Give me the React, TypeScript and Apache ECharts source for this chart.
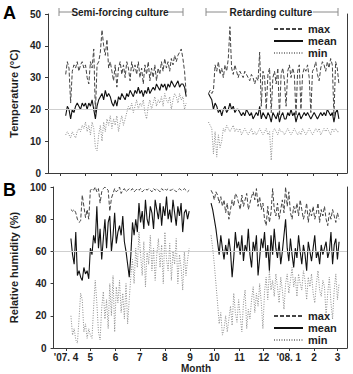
import React, { useEffect, useRef } from "react";
import * as echarts from "echarts";

// Month ticks: days counted from 1 April 2007
const monthTickDays = [0, 30, 61, 91, 122, 153, 183, 214, 244, 275, 306, 335];
const monthLabels = ["'07. 4", "5", "6", "7", "8", "9", "10", "11", "12", "'08. 1", "2", "3"];

const semiStartDay = 6;
const retStartDay = 179;
const stepDays = 2;

// Temperature (°C)
const tMaxSemi = [
  31, 35, 33, 22, 32, 34, 33, 35, 32, 34,
  35, 33, 34, 30, 28, 35, 33, 39, 19, 34,
  35, 38, 45, 40, 37, 42, 33, 35, 32, 29,
  34, 27, 33, 35, 31, 34, 30, 35, 33, 29,
  35, 32, 34, 31, 35, 30, 33, 28, 34, 31,
  35, 29, 33, 30, 34, 29, 33, 31, 35, 32,
  36, 33, 35, 32, 36, 34, 37, 35, 37, 38,
  39, 36, 32, 25,
];
const tMeanSemi = [
  18, 21, 20, 17, 20, 19, 21, 22, 21, 20,
  22, 21, 22, 20, 22, 21, 23, 20, 17, 21,
  23, 24, 25, 23, 26, 24, 25, 24, 22, 21,
  23, 21, 24, 23, 25, 24, 23, 25, 24, 26,
  25, 24, 26, 25, 27, 25, 26, 24, 26, 25,
  27, 25, 26, 27, 26, 28, 27, 26, 28, 27,
  28, 26, 28, 27, 29, 28, 27, 28, 29, 27,
  28, 28, 27, 24,
];
const tMinSemi = [
  12, 13, 12, 11, 13, 12, 11, 13, 14, 13,
  15, 14, 16, 13, 15, 12, 16, 14, 8, 7,
  12, 15, 10, 16, 13, 17, 15, 18, 14, 17,
  15, 18, 13, 16, 18, 15, 17, 19, 21, 20,
  22, 19, 21, 23, 20, 22, 21, 23, 19, 17,
  21, 23, 20, 22, 24, 21, 23, 22, 24, 21,
  25, 23, 22, 24, 20, 23, 25, 24, 22, 25,
  23, 24, 20, 22,
];
const tMaxRet = [
  25, 26, 25, 26, 34, 32, 35, 31, 33, 30,
  34, 32, 36, 46, 33, 31, 34, 32, 30, 32,
  31, 30, 32, 31, 30, 29, 31, 30, 28, 30,
  29, 38, 21, 32, 30, 20, 31, 33, 19, 30,
  32, 28, 33, 18, 31, 33, 29, 21, 32, 34,
  30, 33, 31, 18, 32, 34, 20, 31, 33, 32,
  34, 30, 19, 32, 33, 35, 31, 29, 33, 35,
  34, 32, 35, 33, 36, 34, 18, 35, 33, 28,
];
const tMeanRet = [
  25, 24, 23, 20, 22, 21, 19, 20, 18, 20,
  21, 19, 20, 22, 20, 21, 19, 20, 20, 19,
  18, 19, 18, 20, 19, 18, 19, 17, 18, 19,
  18, 21, 17, 19, 18, 17, 19, 18, 16, 19,
  18, 17, 19, 16, 18, 19, 17, 17, 19, 18,
  20, 18, 19, 16, 18, 19, 17, 18, 19, 18,
  19, 18, 17, 18, 19, 18, 17, 18, 19, 18,
  19, 18, 20, 19, 18, 19, 16, 19, 20, 17,
];
const tMinRet = [
  16, 15, 14, 6, 13, 5, 12, 8, 10, 14,
  13, 15, 14, 13, 14, 15, 13, 14, 13, 14,
  12, 13, 14, 13, 12, 13, 14, 12, 13, 12,
  13, 14, 13, 12, 13, 14, 12, 13, 4, 13,
  14, 13, 12, 14, 13, 13, 12, 13, 14, 13,
  12, 13, 14, 13, 12, 13, 12, 14, 13, 12,
  13, 14, 13, 12, 13, 14, 13, 14, 12, 13,
  14, 13, 14, 13, 12, 14, 13, 14, 13, 13,
];

// Relative humidity (%)
const hMaxSemi = [
  86, 85, 86, 84, 80, 78, 79, 95, 88, 81,
  86, 80, 98, 99, 98, 100, 97, 99, 90, 97,
  99, 100, 99, 98, 85, 93, 96, 99, 97, 98,
  100, 96, 98, 99, 97, 98, 99, 98, 99, 97,
  98, 99, 98, 99, 97, 98, 99, 98, 99, 98,
  97, 99, 98, 99, 98, 97, 99, 98, 99, 98,
  99, 98, 98, 99, 98, 97, 98, 99, 98, 98,
  99, 98, 97, 98,
];
const hMeanSemi = [
  68, 58, 52, 72, 45, 48, 44, 42, 50, 46,
  48, 43, 62, 58, 70, 65, 88, 62, 74, 55,
  68, 80, 62, 78, 82, 60, 70, 84, 65, 72,
  76, 70, 82, 66, 60, 52, 44, 58, 78, 70,
  80, 72, 90, 78, 85, 74, 92, 80, 76, 88,
  84, 74, 92, 86, 80, 90, 76, 88, 82, 94,
  80, 86, 78, 92, 84, 76, 88, 82, 90, 72,
  84, 86, 80, 85,
];
const hMinSemi = [
  20, 8, 12, 5, 3, 18, 34, 30, 10, 15,
  6, 12, 8, 6, 25, 42, 28, 10, 5, 25,
  35, 18, 30, 12, 40, 20, 45, 10, 38, 28,
  42, 22, 34, 18, 40, 15, 30, 45, 55, 40,
  62, 50, 72, 58, 45, 66, 38, 60, 52, 70,
  48, 62, 42, 58, 68, 50, 64, 40, 72, 55,
  48, 65, 42, 60, 52, 68, 40, 58, 50, 36,
  60, 45, 55, 62,
];
const hMaxRet = [
  98, 96, 92, 97, 95, 90, 94, 88, 92, 84,
  90, 80, 86, 92, 88, 96, 94, 90, 86, 95,
  88, 92, 96, 86, 90, 94, 97, 92, 99, 88,
  94, 86, 90, 80, 76, 88, 78, 84, 99, 86,
  82, 90, 80, 86, 92, 84, 100, 88, 97, 84,
  80, 88, 84, 90, 82, 92, 86, 80, 84, 90,
  78, 86, 82, 88, 80, 84, 90, 78, 86, 82,
  88, 80, 76, 84, 80, 86, 82, 78, 84, 80,
];
const hMeanRet = [
  90, 86, 80, 74, 66, 58, 70, 62, 55, 64,
  58, 68, 60, 44, 56, 72, 62, 66, 58, 70,
  54, 64, 60, 74, 58, 50, 66, 60, 70, 45,
  56, 68, 62, 72, 56, 64, 48, 70, 58, 74,
  62, 56, 66, 52, 60, 70, 80, 62, 54, 68,
  58, 50, 62, 56, 70, 60, 52, 64, 58, 48,
  66, 60, 54, 62, 70, 56, 60, 52, 64, 58,
  62, 66, 56, 60, 72, 52, 64, 68, 55, 66,
];
const hMinRet = [
  70, 62, 52, 40, 28, 15, 22, 8, 12, 20,
  10, 18, 26, 14, 34, 22, 16, 30, 20, 10,
  28, 36, 12, 24, 18, 30, 38, 22, 34, 26,
  40, 28, 12, 35, 44, 30, 48, 36, 42, 32,
  46, 38, 28, 44, 36, 24, 40, 46, 34, 42,
  50, 38, 44, 32, 46, 40, 36, 48, 42, 30,
  44, 38, 46, 34, 28, 40, 48, 36, 32, 42,
  38, 20, 34, 44, 28, 18, 36, 46, 30, 40,
];

const FONT = "'Liberation Sans', Arial, sans-serif";
const AXIS_COLOR = "#3a3a3a";
const TEXT_COLOR = "#1e1e1e";

const styles: Record<string, any> = {
  max: { color: "#454545", width: 1, type: [4, 2] },
  mean: { color: "#111111", width: 1.1, type: "solid" },
  min: { color: "#8c8c8c", width: 1, type: [1, 1.5] },
};

function pairs(values: number[], start: number) {
  return values.map((v, i) => [start + stepDays * i, v]);
}

function lineSeries(name: string, data: number[][], xIdx: number, yIdx: number, refY?: number) {
  const s: any = {
    name,
    type: "line",
    xAxisIndex: xIdx,
    yAxisIndex: yIdx,
    data,
    symbol: "none",
    showSymbol: false,
    lineStyle: styles[name],
    itemStyle: { color: styles[name].color },
    silent: true,
  };
  if (refY !== undefined) {
    s.markLine = {
      silent: true,
      symbol: ["none", "none"],
      label: { show: false },
      lineStyle: { color: "#cfcfcf", type: "solid", width: 1 },
      data: [{ yAxis: refY }],
    };
  }
  return s;
}

function xAxis(gridIndex: number, showLabels: boolean) {
  return {
    type: "value",
    gridIndex,
    min: -15.4,
    max: 346.8,
    axisLine: { show: true, onZero: false, lineStyle: { color: AXIS_COLOR, width: 1 } },
    axisTick: { show: true, customValues: monthTickDays, length: 3, lineStyle: { color: AXIS_COLOR } },
    axisLabel: {
      show: showLabels,
      customValues: monthTickDays,
      formatter: (v: number) => {
        const i = monthTickDays.indexOf(Math.round(v));
        return i >= 0 ? monthLabels[i] : "";
      },
      fontFamily: FONT,
      fontWeight: "bold",
      fontSize: 10,
      lineHeight: 10,
      color: TEXT_COLOR,
      margin: 4,
    },
    splitLine: { show: false },
  };
}

function yLeft(gridIndex: number, max: number, interval: number, name: string) {
  return {
    type: "value",
    gridIndex,
    min: 0,
    max,
    interval,
    position: "left",
    name,
    nameLocation: "middle",
    nameGap: 27,
    nameTextStyle: { fontFamily: FONT, fontWeight: "bold", fontSize: 11, color: TEXT_COLOR },
    axisLine: { show: true, onZero: false, lineStyle: { color: AXIS_COLOR, width: 1 } },
    axisTick: { show: true, length: 3, lineStyle: { color: AXIS_COLOR } },
    axisLabel: { fontFamily: FONT, fontWeight: "bold", fontSize: 10, color: TEXT_COLOR, margin: 7 },
    splitLine: { show: false },
  };
}

function yRight(gridIndex: number, max: number) {
  return {
    type: "value",
    gridIndex,
    min: 0,
    max,
    position: "right",
    axisLine: { show: true, onZero: false, lineStyle: { color: AXIS_COLOR, width: 1 } },
    axisTick: { show: false },
    axisLabel: { show: false },
    splitLine: { show: false },
  };
}

function legend(top: number) {
  return {
    orient: "vertical",
    left: 268,
    top,
    itemWidth: 29,
    itemHeight: 10,
    itemGap: 0,
    selectedMode: false,
    data: ["max", "mean", "min"],
    itemStyle: { opacity: 0 },
    textStyle: { fontFamily: FONT, fontWeight: "bold", fontSize: 11, color: TEXT_COLOR, lineHeight: 12 },
  };
}

function bracket(x1: number, x2: number, textX: number, text: string, lineEnd1: number, lineStart2: number) {
  const c = "#8a8a8a";
  return [
    { type: "line", shape: { x1, y1: 8, x2: x1, y2: 16 }, style: { stroke: c, lineWidth: 1 } },
    { type: "line", shape: { x1, y1: 12, x2: lineEnd1, y2: 12 }, style: { stroke: c, lineWidth: 1 } },
    { type: "line", shape: { x1: lineStart2, y1: 12, x2: x2, y2: 12 }, style: { stroke: c, lineWidth: 1 } },
    { type: "line", shape: { x1: x2, y1: 8, x2: x2, y2: 16 }, style: { stroke: c, lineWidth: 1 } },
    {
      type: "text",
      x: textX,
      y: 12,
      style: {
        text,
        fill: TEXT_COLOR,
        font: `bold 10px ${FONT}`,
        textAlign: "center",
        textVerticalAlign: "middle",
      },
    },
  ];
}

export default function App() {
  const ref = useRef<HTMLDivElement>(null);
  useEffect(() => {
    document.body.style.margin = "0";
    const chart = echarts.init(ref.current!, null, { renderer: "svg" });
    const option: any = {
      animation: false,
      textStyle: { fontFamily: FONT },
      grid: [
        { left: 42, top: 14, width: 305, height: 159 },
        { left: 42, top: 187, width: 305, height: 161 },
      ],
      xAxis: [xAxis(0, false), xAxis(1, true)],
      yAxis: [
        yLeft(0, 50, 10, "Temperature (°C)"),
        yRight(0, 50),
        yLeft(1, 100, 20, "Relative humidity (%)"),
        yRight(1, 100),
      ],
      legend: [legend(18), legend(305)],
      series: [
        lineSeries("min", pairs(tMinSemi, semiStartDay), 0, 0, 20),
        lineSeries("min", pairs(tMinRet, retStartDay), 0, 0),
        lineSeries("max", pairs(tMaxSemi, semiStartDay), 0, 0),
        lineSeries("max", pairs(tMaxRet, retStartDay), 0, 0),
        lineSeries("mean", pairs(tMeanSemi, semiStartDay), 0, 0),
        lineSeries("mean", pairs(tMeanRet, retStartDay), 0, 0),
        lineSeries("min", pairs(hMinSemi, semiStartDay), 1, 2, 60),
        lineSeries("min", pairs(hMinRet, retStartDay), 1, 2),
        lineSeries("max", pairs(hMaxSemi, semiStartDay), 1, 2),
        lineSeries("max", pairs(hMaxRet, retStartDay), 1, 2),
        lineSeries("mean", pairs(hMeanSemi, semiStartDay), 1, 2),
        lineSeries("mean", pairs(hMeanRet, retStartDay), 1, 2),
      ],
      graphic: [
        {
          type: "text",
          x: 3,
          y: 4,
          style: { text: "A", fill: "#000", font: `bold 18px ${FONT}` },
        },
        {
          type: "text",
          x: 3,
          y: 181,
          style: { text: "B", fill: "#000", font: `bold 18px ${FONT}` },
        },
        ...bracket(59, 183, 120, "Semi-forcing culture", 73, 168),
        ...bracket(206, 338, 271, "Retarding culture", 227, 313),
        {
          type: "text",
          x: 196,
          y: 363,
          style: {
            text: "Month",
            fill: TEXT_COLOR,
            font: `bold 10px ${FONT}`,
            lineHeight: 10,
            textAlign: "center",
            textVerticalAlign: "top",
          },
        },
      ],
    };
    chart.setOption(option);
    return () => chart.dispose();
  }, []);
  return <div ref={ref} style={{ width: 353, height: 374 }} />;
}
